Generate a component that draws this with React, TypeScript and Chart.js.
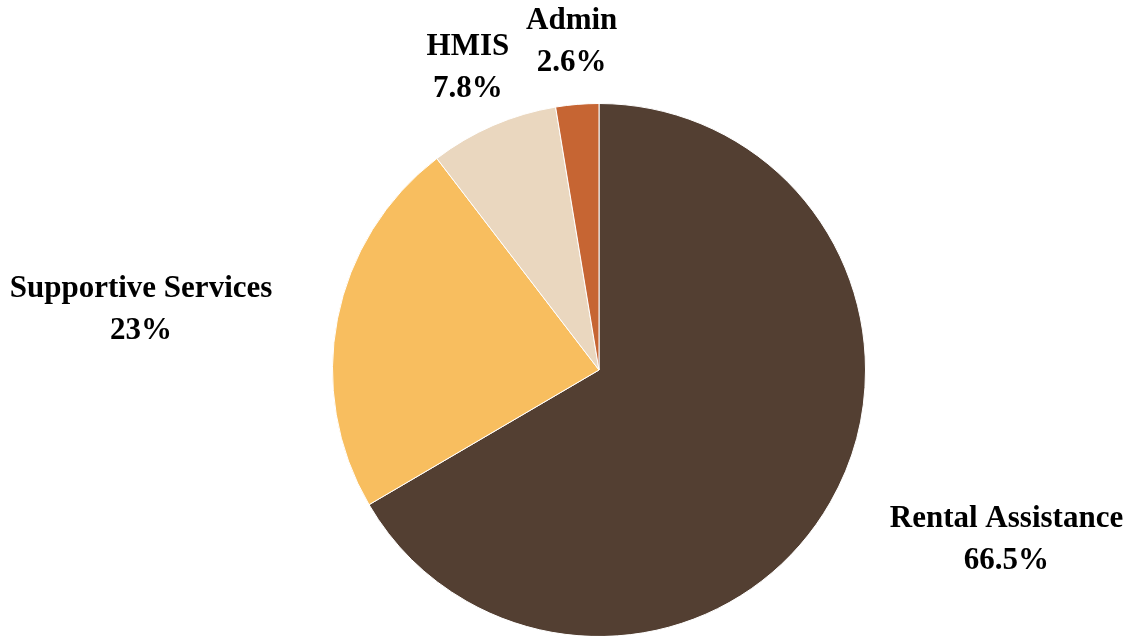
import React, { useEffect, useRef } from "react";
import { Chart, registerables } from "chart.js";

Chart.register(...registerables);

const categories = ["Rental Assistance", "Supportive Services", "HMIS", "Admin"];
const shares = [66.5, 23, 7.8, 2.6];
const sliceColors = ["#533F32", "#F8BE5F", "#EAD7BF", "#C66533"];

const FONT = "bold 31px 'Liberation Serif', 'Times New Roman', serif";
const LINE_GAP = 42;

const outsideLabels = {
  id: "outsideLabels",
  afterDatasetsDraw(chart: any) {
    const ctx = chart.ctx;
    const meta = chart.getDatasetMeta(0);
    ctx.save();
    ctx.font = FONT;
    ctx.fillStyle = "#000";
    ctx.textAlign = "center";
    ctx.textBaseline = "middle";
    meta.data.forEach((arc: any, i: number) => {
      const { x, y, startAngle, endAngle, outerRadius } = arc.getProps(
        ["x", "y", "startAngle", "endAngle", "outerRadius"],
        true
      );
      const mid = (startAngle + endAngle) / 2;
      const c = Math.cos(mid);
      const s = Math.sin(mid);
      const l1 = categories[i];
      const l2 = String(shares[i]) + "%";
      const hw = Math.max(ctx.measureText(l1).width, ctx.measureText(l2).width) / 2;
      const hh = LINE_GAP;
      const d = outerRadius + 22;
      const ramp = Math.min(1, Math.max(0, (Math.abs(c) - 0.4) / 0.45));
      const extra = Math.sign(c) * (46 + 20 * Math.max(0, s)) * ramp;
      const cx = x + d * c + hw * c + extra;
      const cy = y + (d + hh + 3) * s + 4;
      ctx.fillText(l1, cx, cy - LINE_GAP / 2);
      ctx.fillText(l2, cx, cy + LINE_GAP / 2);
    });
    ctx.restore();
  },
};

export default function App() {
  const ref = useRef<HTMLCanvasElement | null>(null);
  useEffect(() => {
    if (!ref.current) return;
    const chart = new Chart(ref.current, {
      type: "pie",
      data: {
        labels: categories,
        datasets: [
          {
            data: shares,
            backgroundColor: sliceColors,
            borderColor: "#ffffff",
            borderWidth: 1,
          },
        ],
      },
      options: {
        responsive: false,
        maintainAspectRatio: false,
        animation: false,
        layout: { padding: { top: 103, left: 332, right: 264, bottom: 23 } },
        plugins: {
          legend: { display: false },
          tooltip: { enabled: false },
        },
      },
      plugins: [outsideLabels],
    });
    return () => chart.destroy();
  }, []);
  return (
    <div style={{ position: "fixed", left: 0, top: 0, width: 1130, height: 636, overflow: "hidden", background: "#fff" }}>
      <canvas ref={ref} width={1130} height={660} style={{ display: "block" }} />
    </div>
  );
}
